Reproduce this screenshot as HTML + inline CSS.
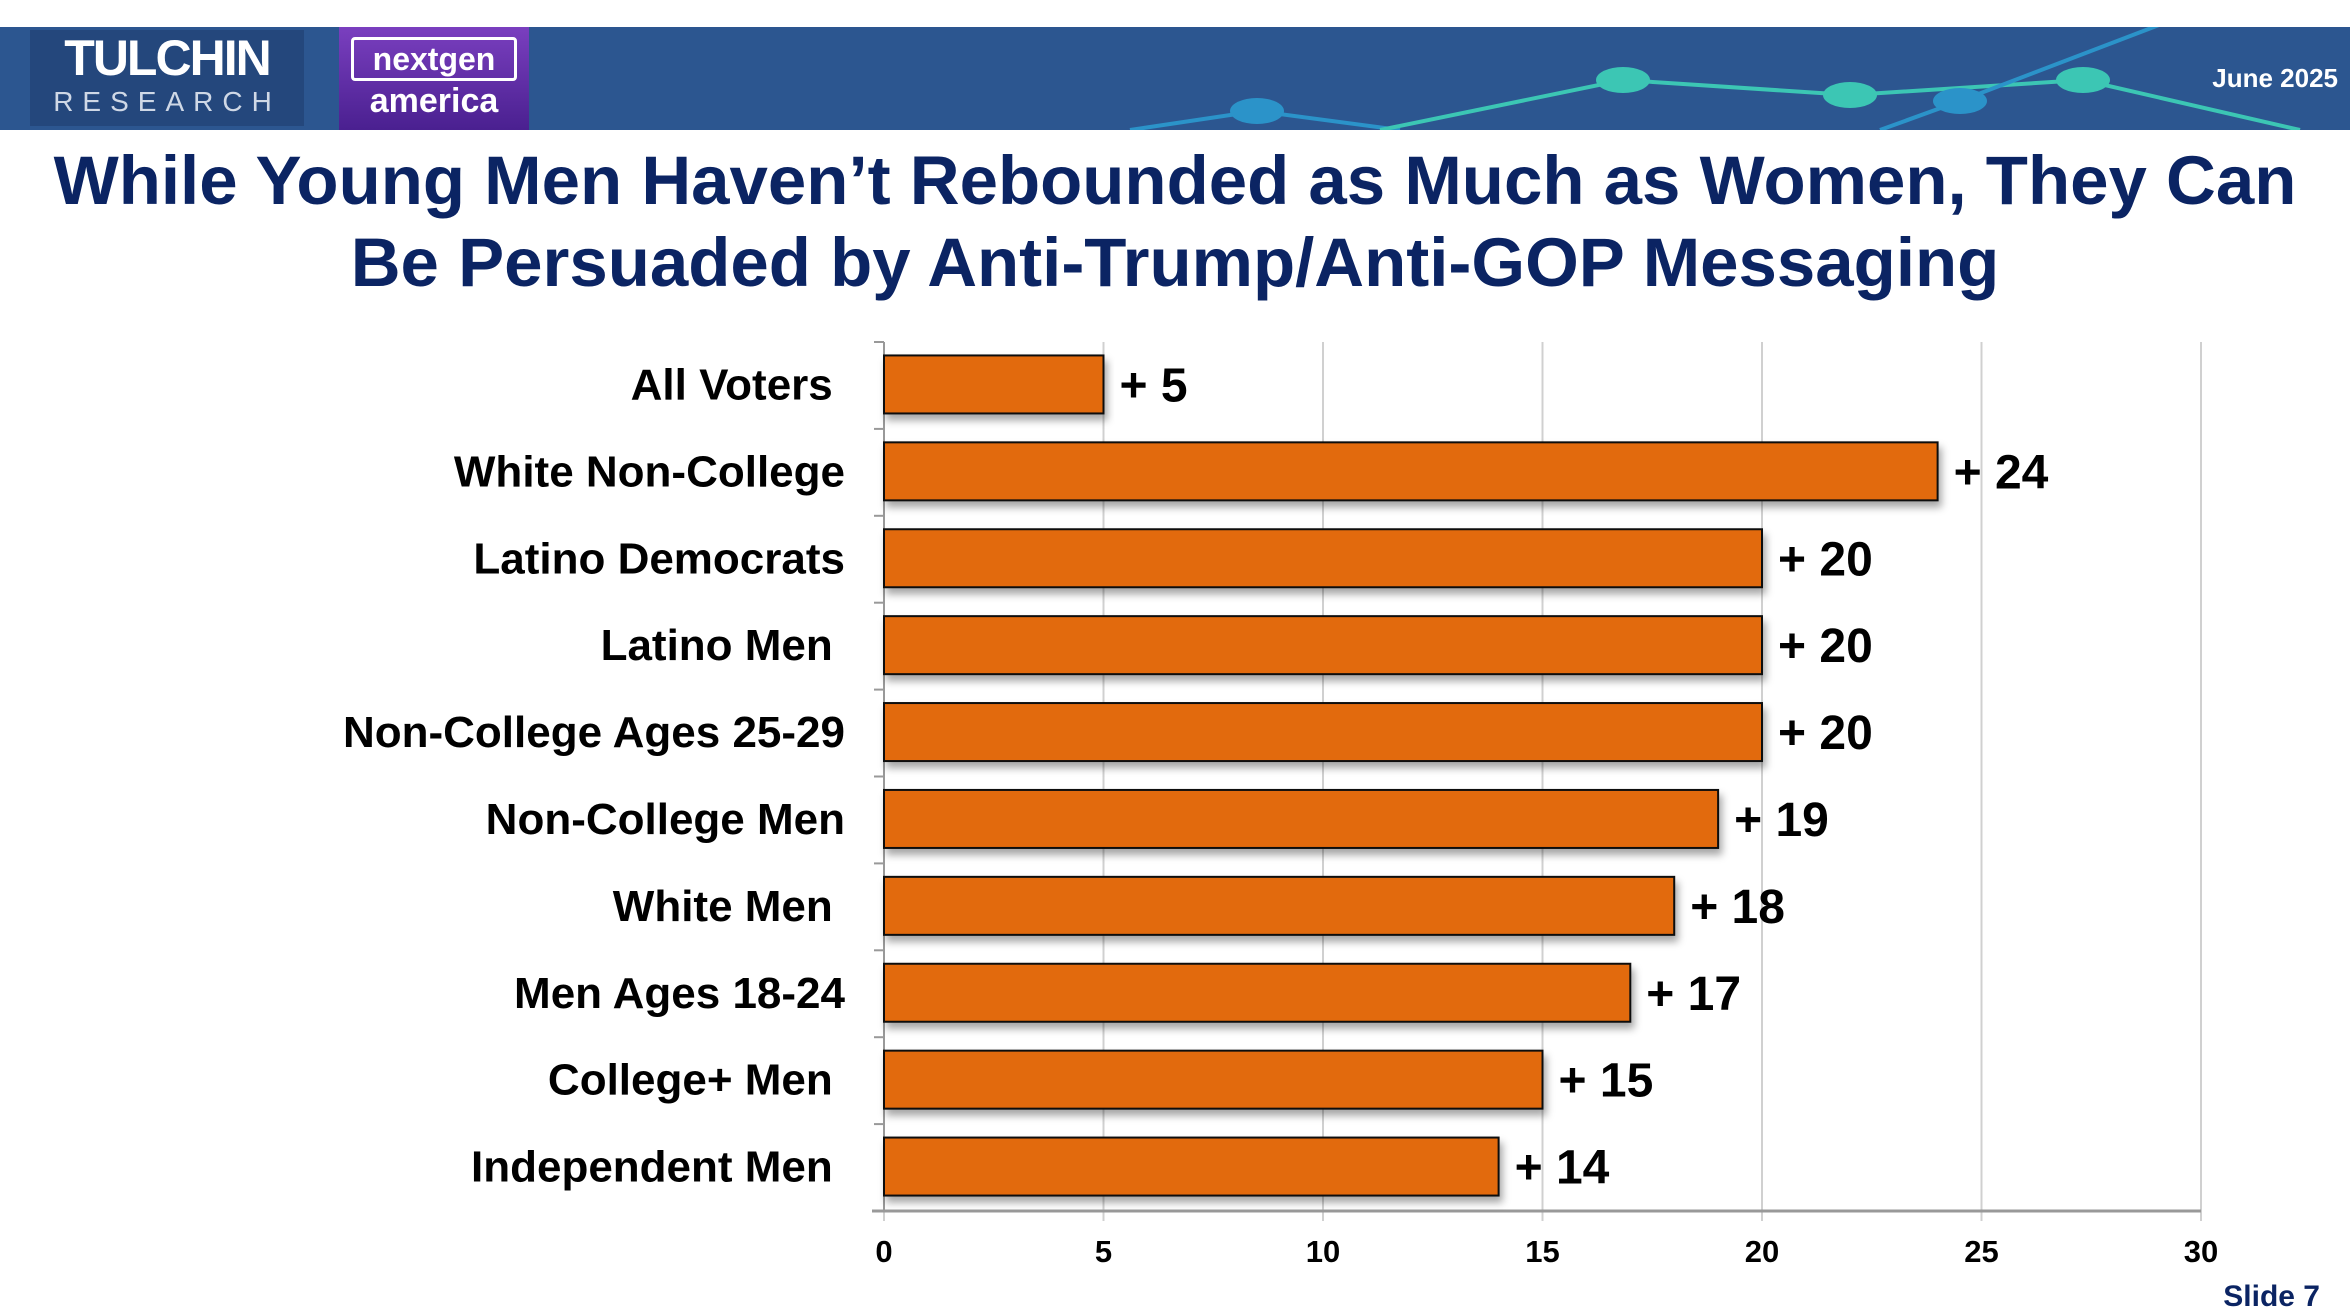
<!DOCTYPE html>
<html><head><meta charset="utf-8"><style>
body{margin:0;width:2350px;height:1316px;background:#fff;position:relative;overflow:hidden;font-family:"Liberation Sans",Arial,sans-serif}
.h{position:absolute}
</style></head><body>
<div class="h" style="left:0;top:27px;width:2350px;height:103px;background:#2c5690;overflow:hidden">
<svg width="2350" height="103">
<polyline points="1130,103 1257,84 1400,103" fill="none" stroke="#2b93c9" stroke-width="4"/>
<polyline points="1380,103 1623,53 1850,68 2083,53 2300,103" fill="none" stroke="#3cc6b4" stroke-width="4"/>
<polyline points="1880,103 1960,74 2180,-10" fill="none" stroke="#2b93c9" stroke-width="4"/>
<ellipse cx="1257" cy="84" rx="27" ry="13" fill="#2b93c9"/>
<ellipse cx="1623" cy="53" rx="27" ry="13" fill="#3cc6b4"/>
<ellipse cx="1850" cy="68" rx="27" ry="13" fill="#3cc6b4"/>
<ellipse cx="1960" cy="74" rx="27" ry="13" fill="#2b93c9"/>
<ellipse cx="2083" cy="53" rx="27" ry="13" fill="#3cc6b4"/>
</svg>
<div class="h" style="right:12px;top:36px;color:#fff;font-weight:bold;font-size:26px">June 2025</div>
</div>
<div class="h" style="left:30px;top:30px;width:274px;height:96px;background:#24477c;color:#fff;text-align:center">
<div style="font-weight:900;font-size:50px;line-height:56px;letter-spacing:-2px">TULCHIN</div>
<div style="font-size:28px;letter-spacing:9px;color:#cfd8e6">RESEARCH</div></div>
<div class="h" style="left:339px;top:27px;width:190px;height:103px;background:linear-gradient(#7a3fbf,#4a2090);color:#fff;text-align:center;font-weight:bold">
<div style="margin:10px auto 0;width:160px;border:3px solid #fff;border-radius:4px;font-size:32px;line-height:38px">nextgen</div>
<div style="font-size:34px;line-height:40px">america</div></div>
<div class="h" style="left:0;width:2350px;top:140px;text-align:center;color:#0b2463;font-weight:bold;font-size:69px;line-height:82px">While Young Men Haven’t Rebounded as Much as Women, They Can<br>Be Persuaded by Anti-Trump/Anti-GOP Messaging</div>
<svg class="h" style="left:0;top:0" width="2350" height="1316" id="chart"></svg>
<div class="h" style="right:30px;top:1280px;color:#0b2463;font-weight:bold;font-size:30px">Slide 7</div>
<script>
const categories=["All Voters ","White Non-College","Latino Democrats","Latino Men ","Non-College Ages 25-29","Non-College Men","White Men ","Men Ages 18-24","College+ Men ","Independent Men "];
const values=[5,24,20,20,20,19,18,17,15,14];
const ticks=[0,5,10,15,20,25,30];
const NS="http://www.w3.org/2000/svg",svg=document.getElementById('chart');
const x0=884,x1=2201,yTop=342,yBot=1211,pitch=(yBot-yTop)/categories.length,bh=58;
const xs=v=>x0+(x1-x0)*v/30;
function mk(t,a,p){const e=document.createElementNS(NS,t);for(const k in a)e.setAttribute(k,a[k]);(p||svg).appendChild(e);return e;}
const defs=mk('defs',{});defs.innerHTML='<filter id="sh" x="-5%" y="-20%" width="110%" height="160%"><feDropShadow dx="3" dy="6" stdDeviation="4" flood-color="#000" flood-opacity="0.35"/></filter>';
ticks.forEach(t=>{
 const g=mk('line',{x1:xs(t),x2:xs(t),y1:yTop,y2:yBot+10,stroke:'#d0d0d0','stroke-width':2});
 
 
 const l=mk('text',{x:xs(t),y:1262,'text-anchor':'middle','font-size':31,'font-weight':'bold',fill:'#000'});
 l.textContent=t;
 
 
});
mk('line',{x1:x0,x2:x0,y1:yTop,y2:yBot,stroke:'#999','stroke-width':2});
mk('line',{x1:x0-12,x2:x1,y1:yBot,y2:yBot,stroke:'#999','stroke-width':3});
categories.forEach((c,i)=>{
 const cy=yTop+pitch*(i+0.5);
 mk('line',{x1:x0-10,x2:x0,y1:yTop+pitch*i,y2:yTop+pitch*i,stroke:'#999','stroke-width':2});
 const r=mk('rect',{x:x0,y:cy-bh/2-1,width:xs(values[i])-x0,height:bh,fill:'#e26b0f',stroke:'#111','stroke-width':2,filter:'url(#sh)'});
 
 
 const l=mk('text',{x:845,y:cy+14,'text-anchor':'end','font-size':44,'font-weight':'bold',fill:'#000','xml:space':'preserve'});
 l.textContent=c.trim()+(c.endsWith(' ')?'\u00a0':'');
 
 
 const v=mk('text',{x:xs(values[i])+16,y:cy+16,'font-size':48,'font-weight':'bold',fill:'#000'});
 v.textContent='+ '+values[i];
 
 
});
</script>
</body></html>
